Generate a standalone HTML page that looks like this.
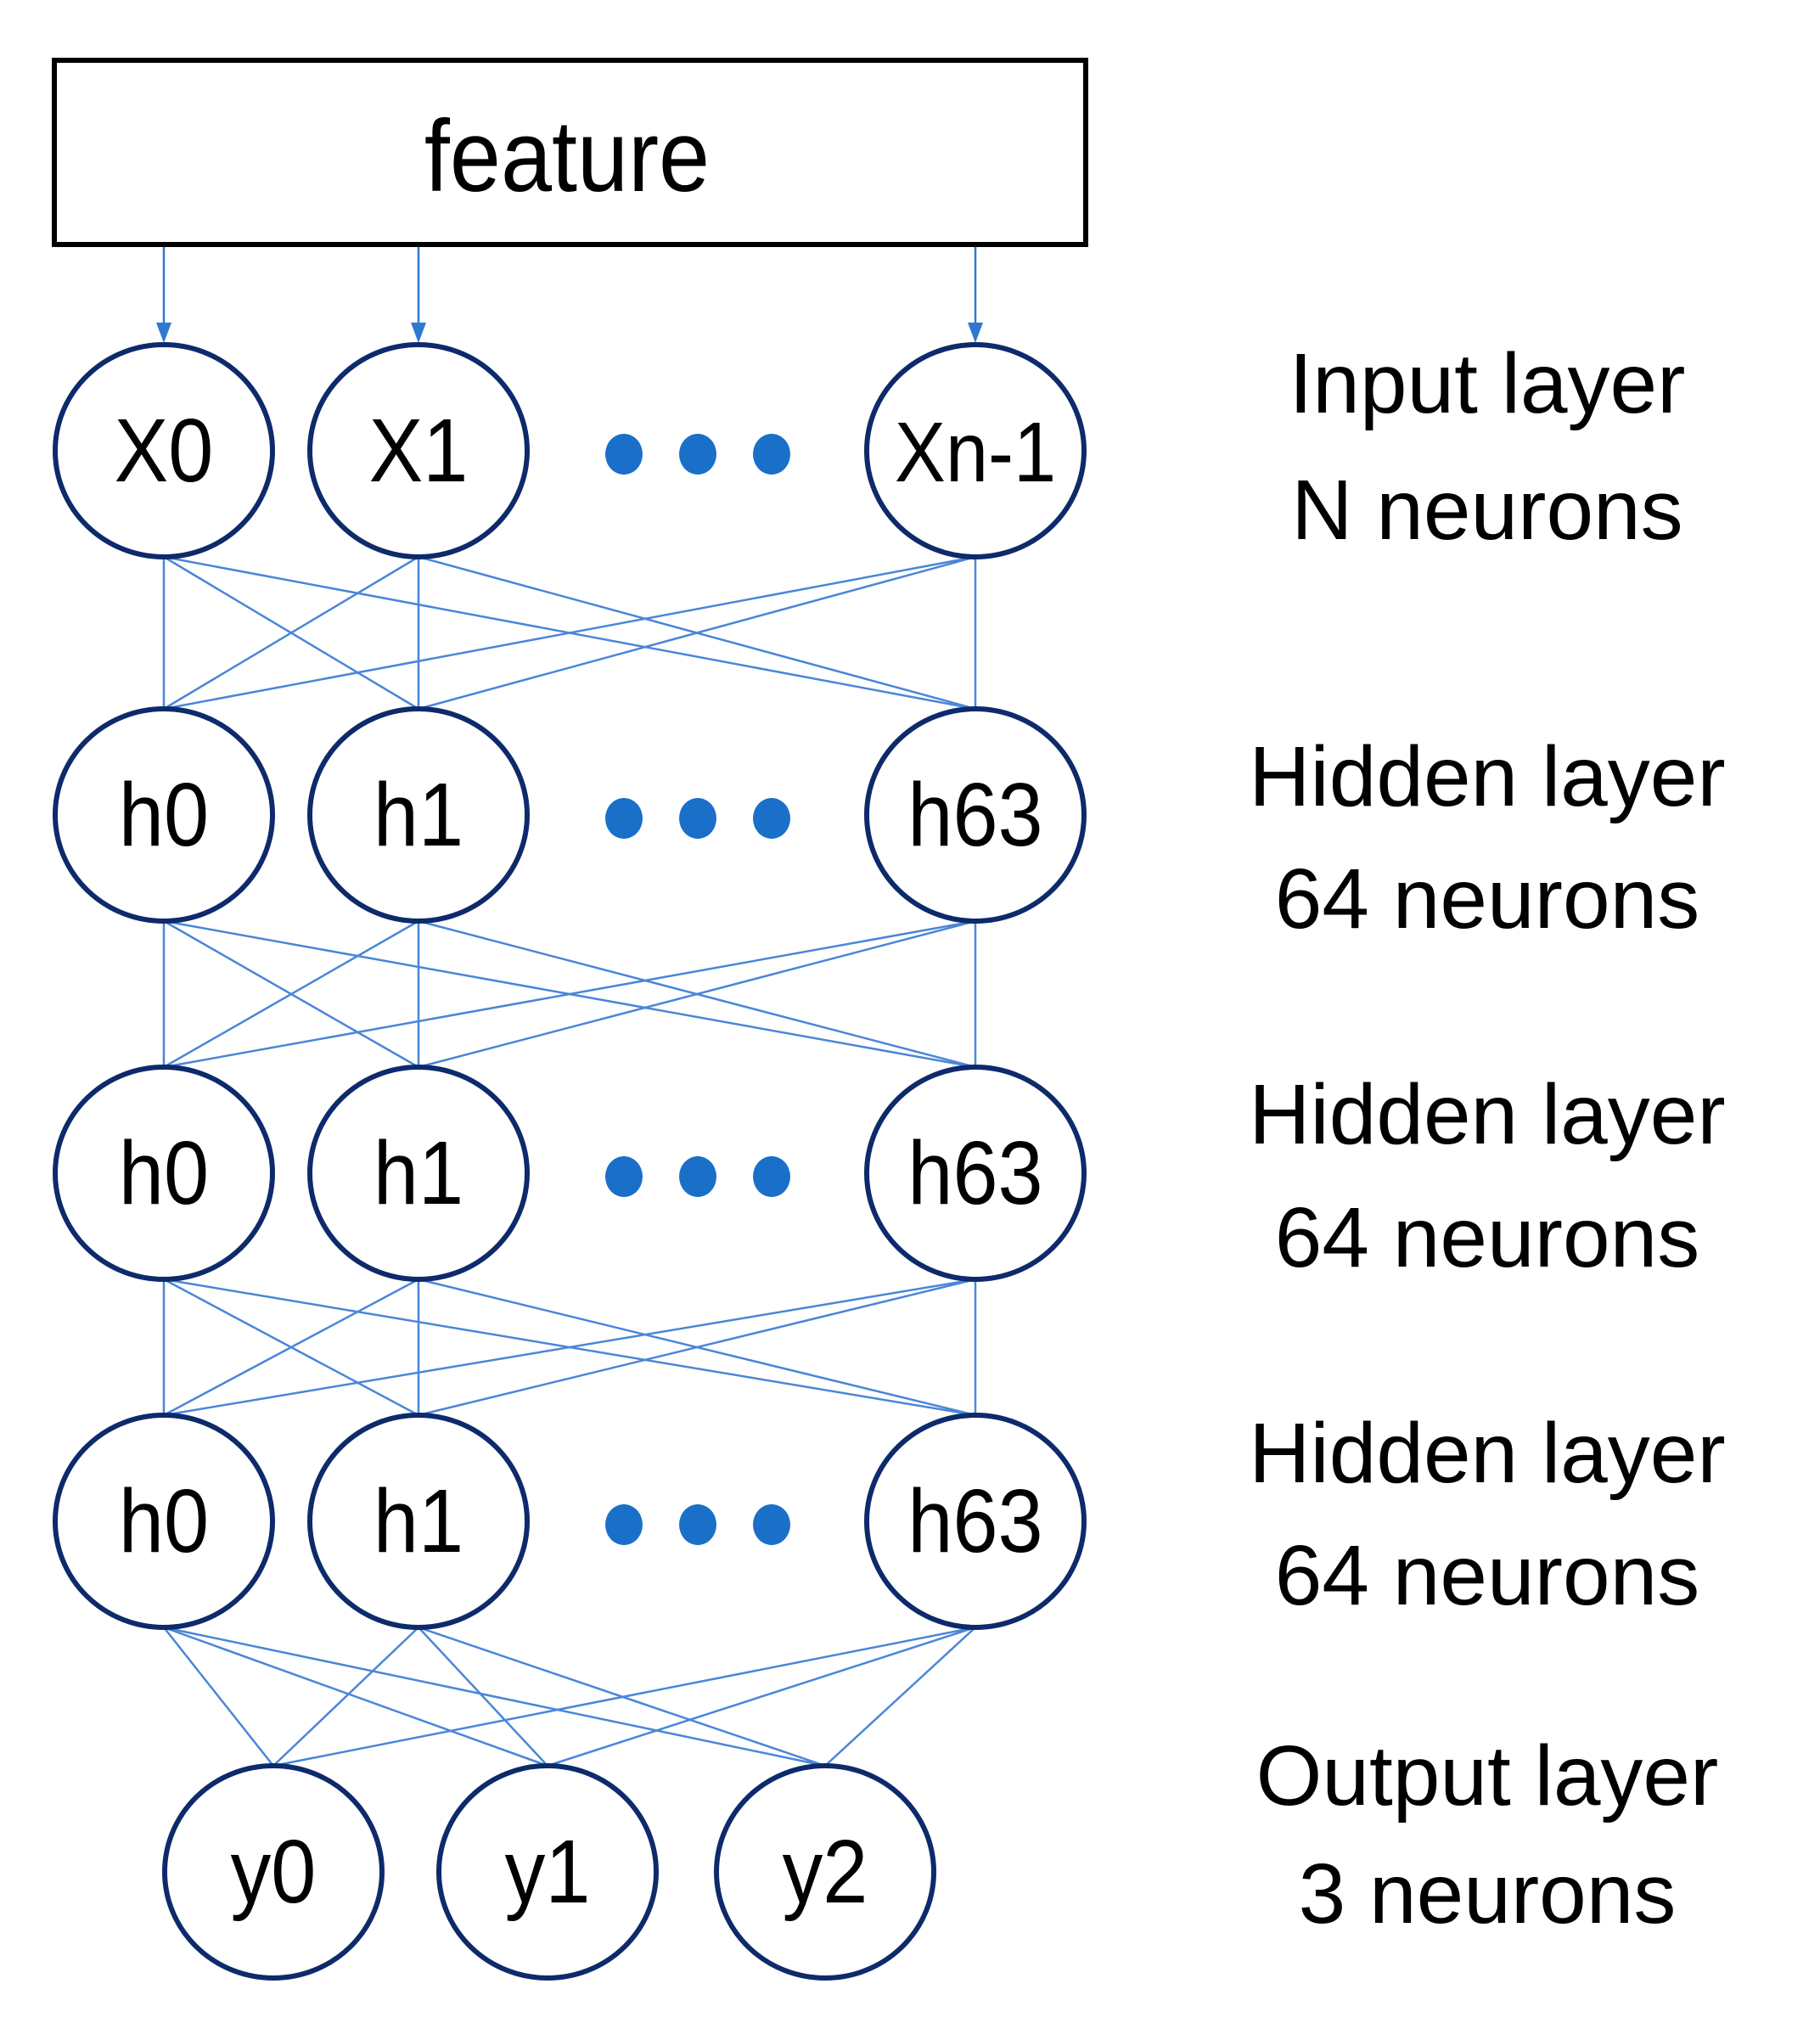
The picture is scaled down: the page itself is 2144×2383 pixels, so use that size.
<!DOCTYPE html>
<html><head><style>body{margin:0;background:#fff}svg{display:block}text{font-family:"Liberation Sans",sans-serif;fill:#000}</style></head>
<body>
<svg width="2144" height="2383" viewBox="0 0 2144 2383" xmlns="http://www.w3.org/2000/svg">
<rect x="64" y="71" width="1215" height="217" fill="#fff" stroke="#000" stroke-width="6"/>
<text x="668" y="225" font-size="120" text-anchor="middle" transform="translate(668 0) scale(0.9 1) translate(-668 0)">feature</text>
<g stroke="#2f78d0" stroke-width="2.5">
<line x1="193" y1="291" x2="193" y2="392"/><line x1="493" y1="291" x2="493" y2="392"/><line x1="1149" y1="291" x2="1149" y2="392"/>
</g>
<g fill="#2f78d0">
<polygon points="184,380 202,380 193,404"/><polygon points="484,380 502,380 493,404"/><polygon points="1140,380 1158,380 1149,404"/>
</g>
<g stroke="#4a86d8" stroke-width="2.5" fill="none" id="conn"></g>
<g id="nodes"></g>
<g id="labels" font-size="100" text-anchor="middle"></g>
<script>
var ns="http://www.w3.org/2000/svg";
var X=[193,493,1149],L=[531,960,1382,1792],RX=128,RY=125,O=[322,645,972],OY=2205;
var c=document.getElementById('conn'),n=document.getElementById('nodes'),lb=document.getElementById('labels');
function el(p,t,a,tx){var e=document.createElementNS(ns,t);for(var k in a)e.setAttribute(k,a[k]);if(tx)e.textContent=tx;p.appendChild(e);return e;}
for(var l=0;l<3;l++)for(var i=0;i<3;i++)for(var j=0;j<3;j++)el(c,'line',{x1:X[i],y1:L[l]+RY,x2:X[j],y2:L[l+1]-RY});
for(var i=0;i<3;i++)for(var j=0;j<3;j++)el(c,'line',{x1:X[i],y1:L[3]+RY,x2:O[j],y2:OY-RY});
var names=[["X0","X1","Xn-1"],["h0","h1","h63"],["h0","h1","h63"],["h0","h1","h63"]];
function txt(x,y,s,fs){var t=el(n,'text',{x:x,y:y,"font-size":fs,"text-anchor":"middle",transform:"translate("+x+" 0) scale(0.9 1) translate("+(-x)+" 0)"},s);}
for(var l=0;l<4;l++){for(var i=0;i<3;i++){el(n,'ellipse',{cx:X[i],cy:L[l],rx:RX,ry:RY,fill:"#fff",stroke:"#0d2a6b","stroke-width":6});
txt(X[i],L[l]+36,names[l][i],names[l][i]=="Xn-1"?100:106);}
for(var d=0;d<3;d++)el(n,'ellipse',{cx:735+d*87,cy:L[l]+4,rx:22,ry:24,fill:"#1a6fc8"});}
for(var j=0;j<3;j++){el(n,'ellipse',{cx:O[j],cy:OY,rx:RX,ry:RY,fill:"#fff",stroke:"#0d2a6b","stroke-width":6});txt(O[j],OY+36,"y"+j,106);}
var labs=[["Input layer",486],["N neurons",635],["Hidden layer",949],["64 neurons",1093],["Hidden layer",1347],["64 neurons",1492],["Hidden layer",1746],["64 neurons",1890],["Output layer",2126],["3 neurons",2265]];
labs.forEach(function(a){el(lb,'text',{x:1752,y:a[1]},a[0]);});
</script>
</svg>
</body></html>
